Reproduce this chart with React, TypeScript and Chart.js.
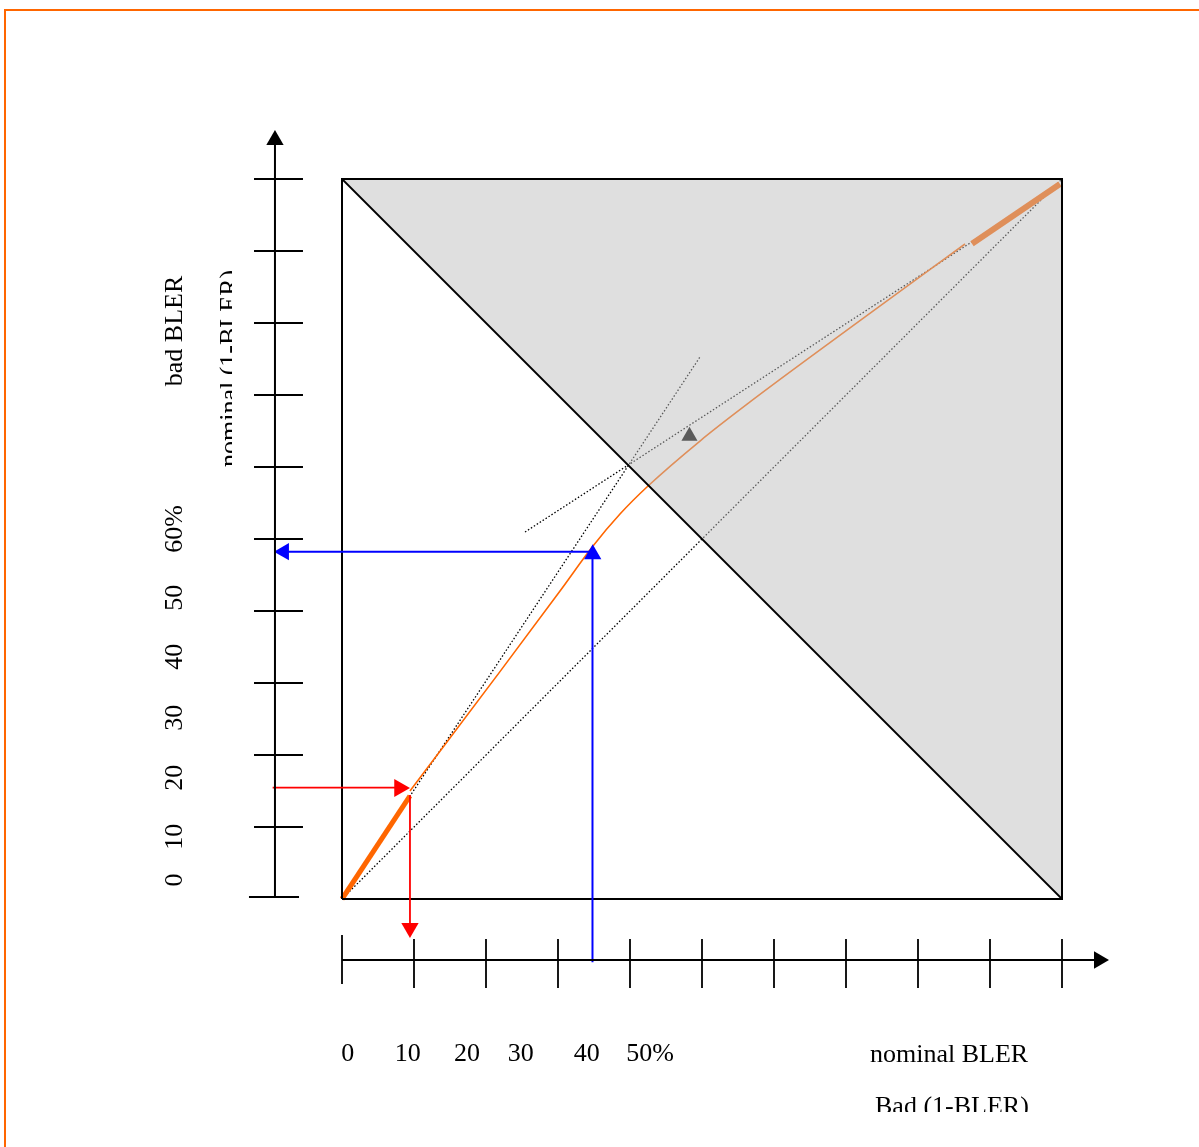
import React, { useEffect, useRef } from 'react';
import { Chart, registerables } from 'chart.js';

Chart.register(...registerables);

// ---------- page / scale geometry (percent units) ----------
const W = 1199;
const H = 1147;
const PX_PER_UNIT = 7.2;
const ORIGIN_PX = 342;
const TOP_PX = 179;
const XMIN = -ORIGIN_PX / PX_PER_UNIT;
const XMAX = XMIN + W / PX_PER_UNIT;
const YMAX = 100 + TOP_PX / PX_PER_UNIT;
const YMIN = YMAX - H / PX_PER_UNIT;

// ---------- data ----------
// axis ticks (percent)
const xTickValues = [0, 10, 20, 30, 40, 50, 60, 70, 80, 90, 100];
const yTickValues = [10, 20, 30, 40, 50, 60, 70, 80, 90, 100];
const yBottomTick = 0.28;

// tick labels
const xTickLabels = ['0', '10', '20', '30', '40', '50%'];
const xTickLabelPos = [0.79, 9.13, 17.36, 24.82, 34.01, 42.78];
const yTickLabels = ['0', '10', '20', '30', '40', '50', '60%'];
const yTickLabelPos = [2.64, 8.65, 16.85, 25.18, 33.65, 41.85, 51.39];

// BLER mapping curve (nominal -> bad), percent
const curveX = [9.44, 21.94, 30.28, 34.86, 38.61, 42.5, 49.72, 56.67, 70.56, 86.53];
const curveY = [15.0, 31.58, 42.78, 49.03, 53.47, 57.36, 63.61, 69.03, 79.31, 90.97];
// thick end segments of the curve
const thickLowX = [0, 9.44];
const thickLowY = [0, 14.31];
const thickHighX = [87.5, 99.72];
const thickHighY = [91.0, 99.31];

// dotted construction lines
const tangentX = [0, 49.72];
const tangentY = [0, 75.28];
const chordX = [25.42, 99.4];
const chordY = [50.97, 99.0];
const diagX = [0, 100];
const diagY = [0, 100];

// marker
const markerX = [48.26];
const markerY = [64.3];

// read-off example arrows (red: 10% nominal, blue: ~42% nominal)
const redH = { x: [-9.63, 8.5], y: [15.46, 15.46] };
const redV = { x: [9.44, 9.44], y: [14.44, -3.61] };
const blueH = { x: [-7.9, 34.82], y: [48.24, 48.24] };
const blueV = { x: [34.79, 34.79], y: [-8.79, 47.64] };

// ---------- helpers ----------
type P = { x: number; y: number | null };
const pts = (xs: number[], ys: number[]): P[] => xs.map((x, i) => ({ x, y: ys[i] }));

const tickSegments = (vals: number[], a: number, b: number, vertical: boolean): P[] => {
  const out: P[] = [];
  vals.forEach((v) => {
    if (vertical) {
      out.push({ x: v, y: a }, { x: v, y: b }, { x: v, y: null });
    } else {
      out.push({ x: a, y: v }, { x: b, y: v }, { x: b, y: null });
    }
  });
  return out;
};

const FONT = '26px "Liberation Serif", "Times New Roman", serif';

const line = (data: P[], color: string, width: number, order: number, extra: any = {}) => ({
  data,
  borderColor: color,
  backgroundColor: color,
  borderWidth: width,
  pointRadius: 0,
  showLine: true,
  fill: false,
  order,
  ...extra,
});

const arrow = (x: number, y: number, color: string, rot: number, r: number) => ({
  data: [{ x, y }],
  showLine: false,
  pointStyle: 'triangle',
  pointRadius: r,
  pointRotation: rot,
  pointBackgroundColor: color,
  pointBorderColor: color,
  pointBorderWidth: 0,
  order: 1,
});

const textPlugin = {
  id: 'diagramText',
  afterDatasetsDraw(chart: any) {
    const { ctx } = chart;
    const xs = chart.scales.x;
    const ys = chart.scales.y;
    const px = (v: number) => xs.getPixelForValue(v);
    const py = (v: number) => ys.getPixelForValue(v);
    ctx.save();
    ctx.fillStyle = '#000';
    ctx.font = FONT;
    ctx.textBaseline = 'alphabetic';

    // x tick labels
    ctx.textAlign = 'center';
    xTickLabels.forEach((t, i) => ctx.fillText(t, px(xTickLabelPos[i]), py(-22.5)));

    // x axis titles
    ctx.textAlign = 'left';
    ctx.fillText('nominal BLER', px(73.33), py(-22.6));
    ctx.save();
    ctx.beginPath();
    ctx.rect(0, 0, W, py(-29.58));
    ctx.clip();
    ctx.fillText('Bad (1-BLER)', px(74.03), py(-29.86));
    ctx.restore();

    // y tick labels (rotated)
    const rot = (t: string, x: number, y: number, align: CanvasTextAlign) => {
      ctx.save();
      ctx.translate(px(x), py(y));
      ctx.rotate(-Math.PI / 2);
      ctx.textAlign = align;
      ctx.fillText(t, 0, 0);
      ctx.restore();
    };
    yTickLabels.forEach((t, i) => rot(t, -22.26, yTickLabelPos[i], 'center'));
    rot('bad BLER', -22.26, 78.89, 'center');

    ctx.save();
    ctx.beginPath();
    ctx.rect(0, 0, px(-15.28), H);
    ctx.clip();
    rot('nominal (1-BLER)', -14.56, 60.0, 'left');
    ctx.restore();

    ctx.restore();
  },
};

export default function App() {
  const ref = useRef<HTMLCanvasElement | null>(null);

  useEffect(() => {
    if (!ref.current) return;
    const ORANGE = '#ff6600';
    const datasets: any[] = [
      // axes (top layer)
      line(pts([-9.31, -9.31], [0.28, 105.4]), '#000', 2, 1),
      line(tickSegments(yTickValues, -12.22, -5.42, false), '#000', 1.8, 1),
      line(pts([-12.92, -5.97], [yBottomTick, yBottomTick]), '#000', 1.8, 1),
      line(pts([0, 104.6], [-8.47, -8.47]), '#000', 2, 1),
      line(tickSegments(xTickValues.slice(1), -5.56, -12.36, true), '#000', 1.8, 1),
      line(pts([0, 0], [-5.0, -11.81]), '#000', 1.8, 1),
      arrow(-9.31, 105.42, '#000', 0, 10),
      arrow(105.14, -8.47, '#000', 90, 10),

      // red / blue read-off arrows
      line(pts(redH.x, redH.y), '#ff0000', 1.8, 1),
      line(pts(redV.x, redV.y), '#ff0000', 1.8, 1),
      arrow(7.99, 15.42, '#ff0000', 90, 10.5),
      arrow(9.44, -4.03, '#ff0000', 180, 10),
      line(pts(blueH.x, blueH.y), '#0000ff', 2, 1),
      line(pts(blueV.x, blueV.y), '#0000ff', 2, 1),
      arrow(-8.06, 48.24, '#0000ff', 270, 10),
      arrow(34.82, 47.88, '#0000ff', 0, 10),

      // square and anti-diagonal
      line(pts([0, 100, 100, 0, 0], [0, 0, 100, 100, 0]), '#000', 2, 1),
      line(pts([0, 100], [100, 0]), '#000', 1.8, 1),

      // translucent grey region (above anti-diagonal)
      line(pts([0, 100, 100, 0], [100, 100, 0, 100]), 'rgba(188,188,188,0.48)', 0, 2, {
        fill: 'shape',
        backgroundColor: 'rgba(188,188,188,0.48)',
      }),

      // curve and construction lines (under grey)
      line(pts(thickLowX, thickLowY), ORANGE, 5, 3),
      line(pts(thickHighX, thickHighY), ORANGE, 6, 3),
      line(pts(curveX, curveY), ORANGE, 1.6, 3, { cubicInterpolationMode: 'monotone' }),
      line(pts(tangentX, tangentY), '#000', 1.3, 3, { borderDash: [1.5, 2] }),
      line(pts(chordX, chordY), '#000', 1.3, 3, { borderDash: [1.5, 2] }),
      line(pts(diagX, diagY), '#000', 1.3, 3, { borderDash: [1.5, 2] }),
      {
        data: pts(markerX, markerY),
        showLine: false,
        pointStyle: 'triangle',
        pointRadius: 9.3,
        pointBackgroundColor: '#000',
        pointBorderWidth: 0,
        order: 3,
      },

      // document frame
      line(pts([-46.806, -46.806, XMAX + 5], [YMIN - 5, 123.472, 123.472]), '#ff6600', 2, 4),
    ];

    const chart = new Chart(ref.current, {
      type: 'line',
      data: { datasets },
      options: {
        animation: false,
        responsive: false,
        maintainAspectRatio: false,
        devicePixelRatio: 1,
        events: [],
        layout: { padding: 0, autoPadding: false },
        scales: {
          x: { type: 'linear', min: XMIN, max: XMAX, display: false },
          y: { type: 'linear', min: YMIN, max: YMAX, display: false },
        },
        plugins: {
          legend: { display: false },
          tooltip: { enabled: false },
          filler: { propagate: false },
        },
      },
      plugins: [textPlugin],
    } as any);
    return () => chart.destroy();
  }, []);

  return (
    <div style={{ position: 'absolute', left: 0, top: 0, width: W, height: H, background: '#fff' }}>
      <canvas ref={ref} width={W} height={H} style={{ display: 'block', width: W, height: H }} />
    </div>
  );
}
